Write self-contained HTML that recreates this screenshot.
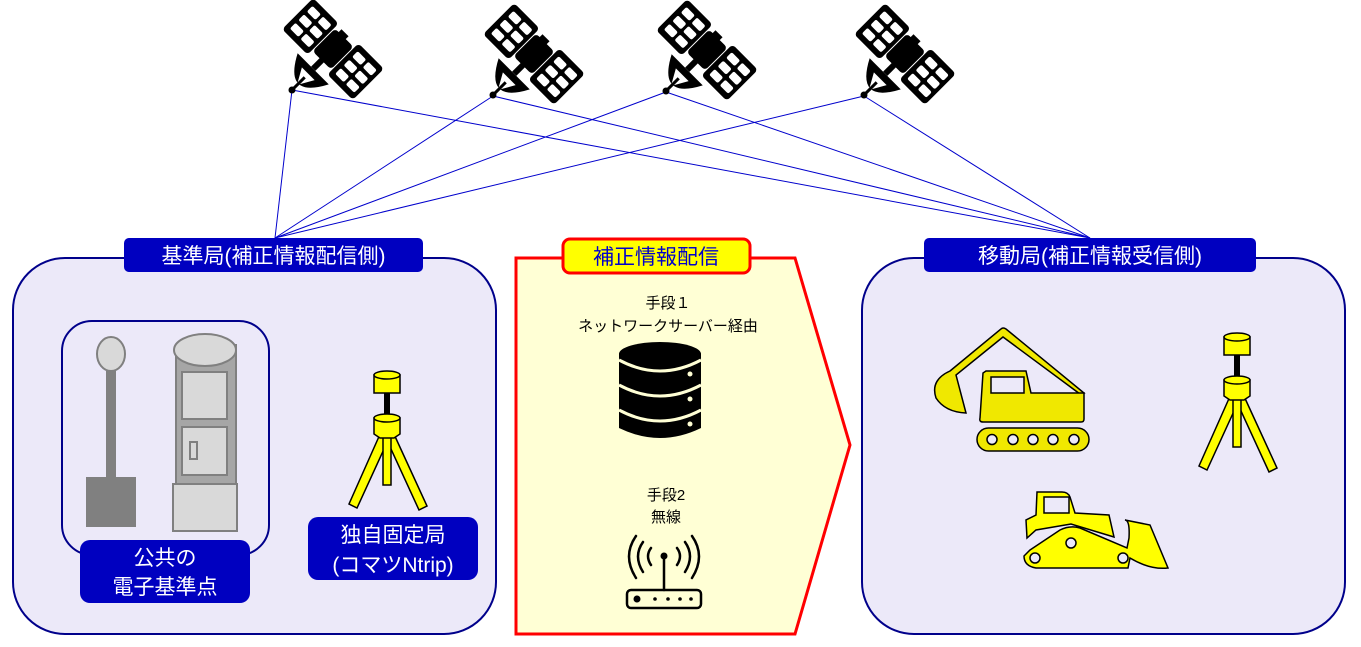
<!DOCTYPE html>
<html><head><meta charset="utf-8"><style>
body{margin:0;background:#fff}
svg{display:block}
text{font-family:"Liberation Sans","Noto Sans CJK JP",sans-serif}
</style></head><body>
<svg width="1361" height="647" viewBox="0 0 1361 647" xmlns="http://www.w3.org/2000/svg">
<defs>
<g id="sat">
  <rect x="-13" y="-16" width="26" height="32" rx="4" fill="#000"/>
  <rect x="-8" y="-20" width="10" height="6" fill="#000"/>
  <g>
    <rect x="-50" y="-22" width="36" height="44" rx="4" fill="#000"/>
    <rect x="-45" y="-16" width="12" height="8" rx="2" fill="#fff"/><rect x="-30" y="-16" width="12" height="8" rx="2" fill="#fff"/>
    <rect x="-45" y="-4" width="12" height="8" rx="2" fill="#fff"/><rect x="-30" y="-4" width="12" height="8" rx="2" fill="#fff"/>
    <rect x="-45" y="8" width="12" height="8" rx="2" fill="#fff"/><rect x="-30" y="8" width="12" height="8" rx="2" fill="#fff"/>
  </g>
  <g transform="translate(64,0)">
    <rect x="-50" y="-22" width="36" height="44" rx="4" fill="#000"/>
    <rect x="-45" y="-16" width="12" height="8" rx="2" fill="#fff"/><rect x="-30" y="-16" width="12" height="8" rx="2" fill="#fff"/>
    <rect x="-45" y="-4" width="12" height="8" rx="2" fill="#fff"/><rect x="-30" y="-4" width="12" height="8" rx="2" fill="#fff"/>
    <rect x="-45" y="8" width="12" height="8" rx="2" fill="#fff"/><rect x="-30" y="8" width="12" height="8" rx="2" fill="#fff"/>
  </g>
  <rect x="-3" y="14" width="6" height="14" fill="#000"/>
  <path d="M-22,28 Q0,70 22,28 Z" fill="#000"/>
  <path d="M-9,35 L9,35 L0,51 Z" fill="#fff"/>
  <line x1="0" y1="40" x2="0" y2="58" stroke="#000" stroke-width="3"/>
  <circle cx="0" cy="58" r="3.5" fill="#000"/>
</g>
<g id="tripod">
  <path d="M-6,60 L-38,132 L-30,136 L3,64 Z" fill="#ff0" stroke="#000" stroke-width="1.5"/>
  <path d="M6,60 L40,134 L32,138 L-2,64 Z" fill="#ff0" stroke="#000" stroke-width="1.5"/>
  <rect x="-4" y="60" width="8" height="53" fill="#ff0" stroke="#000" stroke-width="1.5"/>
  <rect x="-3" y="20" width="6" height="24" fill="#000"/>
  <path d="M-13,46 L13,46 L13,62 L7,66 L-7,66 L-13,62 Z" fill="#ff0" stroke="#000" stroke-width="1.5"/>
  <ellipse cx="0" cy="46" rx="13" ry="4" fill="#ff0" stroke="#000" stroke-width="1.5"/>
  <rect x="-13" y="3" width="26" height="18" fill="#ff0" stroke="#000" stroke-width="1.5"/>
  <ellipse cx="0" cy="3" rx="13" ry="4" fill="#ff0" stroke="#000" stroke-width="1.5"/>
</g>
</defs>

<g stroke="#0000cc" stroke-width="1">
  <line x1="292" y1="90" x2="275" y2="238"/><line x1="292" y1="90" x2="1090" y2="238"/>
  <line x1="493" y1="96" x2="275" y2="238"/><line x1="493" y1="96" x2="1090" y2="238"/>
  <line x1="666" y1="92" x2="275" y2="238"/><line x1="666" y1="92" x2="1090" y2="238"/>
  <line x1="864" y1="96" x2="275" y2="238"/><line x1="864" y1="96" x2="1090" y2="238"/>
</g>
<use href="#sat" transform="translate(333,49) rotate(45)"/>
<use href="#sat" transform="translate(534,54) rotate(45)"/>
<use href="#sat" transform="translate(707,50) rotate(45)"/>
<use href="#sat" transform="translate(905,54) rotate(45)"/>

<rect x="13" y="258" width="483" height="376" rx="52" fill="#ece9f9" stroke="#00008b" stroke-width="2"/>
<rect x="124" y="238" width="299" height="34" rx="5" fill="#0000c0"/>
<text x="273.5" y="263" font-size="21" fill="#fff" text-anchor="middle">基準局(補正情報配信側)</text>
<rect x="62" y="321" width="207" height="234" rx="30" fill="#ece9f9" stroke="#00008b" stroke-width="2"/>
<ellipse cx="111" cy="354" rx="14" ry="17" fill="#d9d9d9" stroke="#808080" stroke-width="2"/>
<rect x="106" y="371" width="10" height="108" fill="#808080"/>
<rect x="86" y="477" width="50" height="50" fill="#808080"/>
<rect x="176" y="345" width="60" height="140" fill="#a6a6a6" stroke="#808080" stroke-width="2"/>
<ellipse cx="205" cy="350" rx="31" ry="16" fill="#d9d9d9" stroke="#808080" stroke-width="2"/>
<rect x="182" y="372" width="45" height="47" fill="#d9d9d9" stroke="#808080" stroke-width="2"/>
<rect x="182" y="427" width="45" height="48" fill="#d9d9d9" stroke="#808080" stroke-width="2"/>
<rect x="190" y="442" width="7" height="17" fill="#d9d9d9" stroke="#808080" stroke-width="2"/>
<rect x="173" y="484" width="64" height="47" fill="#d9d9d9" stroke="#808080" stroke-width="2"/>
<rect x="80" y="540" width="170" height="63" rx="10" fill="#0000c0"/>
<text x="165" y="565" font-size="21" fill="#fff" text-anchor="middle">公共の</text>
<text x="165" y="594" font-size="21" fill="#fff" text-anchor="middle">電子基準点</text>
<use href="#tripod" transform="translate(387,372)"/>
<rect x="308" y="517" width="170" height="63" rx="10" fill="#0000c0"/>
<text x="393" y="542" font-size="21" fill="#fff" text-anchor="middle">独自固定局</text>
<text x="393" y="572" font-size="21" fill="#fff" text-anchor="middle">(コマツNtrip)</text>

<path d="M516,258 L795,258 L850,445 L795,634 L516,634 Z" fill="#ffffd5" stroke="#f00" stroke-width="3"/>
<rect x="563" y="239" width="187" height="34" rx="7" fill="#ff0" stroke="#f00" stroke-width="3"/>
<text x="656" y="264" font-size="21" fill="#0000cc" text-anchor="middle">補正情報配信</text>
<text x="668" y="308" font-size="15" fill="#000" text-anchor="middle">手段１</text>
<text x="668" y="331" font-size="15" fill="#000" text-anchor="middle">ネットワークサーバー経由</text>
<g>
  <path d="M619,354 L701,354 L701,428 Q660,448 619,428 Z" fill="#000"/>
  <ellipse cx="660" cy="354" rx="41" ry="12" fill="#000"/>
  <path d="M619,360 Q660,382 701,360" stroke="#ffffd5" stroke-width="3" fill="none"/>
  <path d="M619,385 Q660,407 701,385" stroke="#ffffd5" stroke-width="3" fill="none"/>
  <path d="M619,410 Q660,432 701,410" stroke="#ffffd5" stroke-width="3" fill="none"/>
  <circle cx="690" cy="374" r="2.5" fill="#ffffd5"/><circle cx="690" cy="399" r="2.5" fill="#ffffd5"/><circle cx="690" cy="424" r="2.5" fill="#ffffd5"/>
</g>
<text x="666" y="500" font-size="15" fill="#000" text-anchor="middle">手段2</text>
<text x="666" y="522" font-size="15" fill="#000" text-anchor="middle">無線</text>
<g fill="none" stroke="#000" stroke-width="2.5" stroke-linecap="round">
  <path d="M651,548 Q645,556 651,565"/><path d="M677,548 Q683,556 677,565"/>
  <path d="M643,542 Q633,556 643,572"/><path d="M685,542 Q695,556 685,572"/>
  <path d="M636,536 Q622,556 636,578"/><path d="M692,536 Q706,556 692,578"/>
  <line x1="664" y1="556" x2="664" y2="590"/>
  <rect x="627" y="590" width="74" height="18" rx="4"/>
</g>
<circle cx="664" cy="556" r="3.5" fill="#000"/>
<circle cx="637" cy="599" r="3.5" fill="#000"/>
<circle cx="655" cy="599" r="1.8" fill="#000"/><circle cx="668" cy="599" r="1.8" fill="#000"/><circle cx="680" cy="599" r="1.8" fill="#000"/><circle cx="691" cy="599" r="1.8" fill="#000"/>

<rect x="862" y="258" width="483" height="376" rx="52" fill="#ece9f9" stroke="#00008b" stroke-width="2"/>
<rect x="924" y="238" width="332" height="34" rx="5" fill="#0000c0"/>
<text x="1090" y="263" font-size="21" fill="#fff" text-anchor="middle">移動局(補正情報受信側)</text>
<g stroke="#000" stroke-width="1.5" fill="#f0e800">
  <path d="M950,371 L1001,329 Q1003,327 1006,329 L1084,393 L1080,394 L1003,337 L956,375 L966,413 Q945,412 936,398 Q930,380 950,371 Z"/>
  <path d="M986,371 L1026,371 L1031,393 L1084,393 L1084,419 Q1084,422 1081,422 L983,422 Q979,422 980,418 L983,373 Z"/>
  <rect x="991" y="377" width="33" height="16" fill="#ece9f9"/>
  <rect x="977" y="428" width="112" height="23" rx="11.5"/>
</g>
<g fill="#ece9f9" stroke="#000" stroke-width="1.5">
  <circle cx="992" cy="439.5" r="5"/><circle cx="1013" cy="439.5" r="5"/><circle cx="1033" cy="439.5" r="5"/><circle cx="1053" cy="439.5" r="5"/><circle cx="1074" cy="439.5" r="5"/>
</g>
<use href="#tripod" transform="translate(1237,334)"/>
<g stroke="#000" stroke-width="1.5" fill="#ff0">
  <path d="M1037,492 L1062,492 Q1068,492 1070,497 L1075,513 L1109,515 L1114,537 L1071,524 L1036,530 L1027,538 L1026,520 L1036,515 Z"/>
  <path d="M1030,550 L1060,530 Q1070,525 1080,528 L1127,548 L1129,538 Q1130,520 1125,520 L1150,525 L1168,568 Q1150,570 1130,558 L1128,568 L1036,568 Q1024,566 1024,556 Z"/>
  <rect x="1044" y="497" width="25" height="16" fill="#ece9f9"/>
</g>
<g fill="#ece9f9" stroke="#000" stroke-width="1.5">
  <circle cx="1035" cy="558" r="5"/><circle cx="1071" cy="543" r="5"/><circle cx="1123" cy="558" r="5"/>
</g>
</svg>
</body></html>
